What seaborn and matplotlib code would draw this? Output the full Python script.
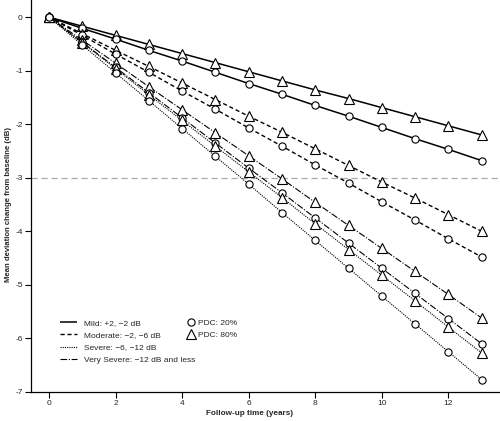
import matplotlib
matplotlib.use("Agg")
import matplotlib.pyplot as plt
from matplotlib.lines import Line2D
import seaborn as sns
import numpy as np

sns.set_theme(style="ticks")
plt.rcParams['font.family'] = ['Liberation Sans', 'DejaVu Sans']
plt.rcParams['axes.unicode_minus'] = False

years = list(range(14))

mild_80 = [0, -0.17, -0.34, -0.51, -0.68, -0.85, -1.02, -1.19, -1.36, -1.52, -1.69, -1.86, -2.03, -2.20]
mild_20 = [0, -0.21, -0.41, -0.62, -0.82, -1.03, -1.24, -1.44, -1.65, -1.85, -2.06, -2.27, -2.47, -2.68]
moderate_80 = [0, -0.31, -0.62, -0.92, -1.23, -1.54, -1.85, -2.15, -2.46, -2.77, -3.08, -3.38, -3.69, -4.00]
moderate_20 = [0, -0.34, -0.69, -1.03, -1.38, -1.72, -2.07, -2.41, -2.76, -3.10, -3.45, -3.79, -4.14, -4.48]
vsevere_80 = [0, -0.43, -0.86, -1.30, -1.73, -2.16, -2.59, -3.02, -3.46, -3.89, -4.32, -4.75, -5.18, -5.62]
vsevere_20 = [0, -0.47, -0.94, -1.41, -1.88, -2.35, -2.82, -3.28, -3.75, -4.22, -4.69, -5.16, -5.63, -6.10]
severe_80 = [0, -0.48, -0.96, -1.45, -1.93, -2.41, -2.89, -3.37, -3.86, -4.34, -4.82, -5.30, -5.79, -6.27]
severe_20 = [0, -0.52, -1.04, -1.56, -2.08, -2.60, -3.12, -3.65, -4.17, -4.69, -5.21, -5.73, -6.25, -6.77]

stage_labels = ["Mild: +2, \u22122 dB", "Moderate: \u22122, \u22126 dB",
                "Severe: \u22126, \u221212 dB", "Very Severe: \u221212 dB and less"]
pdc_labels = ["PDC: 20%", "PDC: 80%"]
xticks = [0, 2, 4, 6, 8, 10, 12]
yticks = [0, -1, -2, -3, -4, -5, -6, -7]

styles = {
    "mild": ((0, ()), 1.1),
    "moderate": ((0, (3, 2)), 1.0),
    "severe": ((0, (1, 1)), 0.8),
    "vsevere": ((0, (6, 1.5, 1, 1.5)), 0.8),
}

series = [
    (mild_80, "mild", "^"), (mild_20, "mild", "o"),
    (moderate_80, "moderate", "^"), (moderate_20, "moderate", "o"),
    (vsevere_80, "vsevere", "^"), (vsevere_20, "vsevere", "o"),
    (severe_80, "severe", "^"), (severe_20, "severe", "o"),
]

fig = plt.figure(figsize=(5.0, 4.21), dpi=100)
ax = fig.add_axes([0.062, 0.069, 0.938, 0.931])

ax.axhline(-3, color="#aaaaaa", linestyle=(0, (5, 3)), linewidth=0.9, zorder=1)

for vals, st, mk in series:
    ls, lw = styles[st]
    ms = 6.8 if mk == "^" else 5.2
    sns.lineplot(x=years, y=vals, ax=ax, color="black", linestyle=ls, linewidth=lw,
                 marker=mk, markersize=ms, markerfacecolor="white",
                 markeredgecolor="black", markeredgewidth=0.8, zorder=3)

ax.set_xlim(-0.54, 13.55)
ax.set_ylim(-7, 0.32)
ax.set_xticks(xticks)
ax.set_yticks(yticks)
ax.set_xticklabels([str(t) for t in xticks])
ax.set_yticklabels([str(t) for t in yticks])
ax.tick_params(axis="both", labelsize=6, length=4, width=0.8, color="black", pad=2)
for s in ["top", "right"]:
    ax.spines[s].set_visible(False)
for s in ["left", "bottom"]:
    ax.spines[s].set_color("black")
    ax.spines[s].set_linewidth(0.9)

ax.set_xlabel("Follow-up time (years)", fontsize=5.9, fontweight="bold")
ax.xaxis.set_label_coords(0.467, -0.047)
ax.set_ylabel("Mean deviation change from baseline (dB)", fontsize=5.6, fontweight="bold")
ax.yaxis.set_label_coords(-0.040, 0.477)

h1 = [Line2D([], [], color="black", linestyle=styles[k][0], linewidth=styles[k][1])
      for k in ["mild", "moderate", "severe", "vsevere"]]
leg1 = ax.legend(h1, stage_labels, loc="upper left", bbox_to_anchor=(0.055, 0.195),
                 frameon=False, fontsize=6, handlelength=2.0, handletextpad=0.9,
                 labelspacing=0.55, borderaxespad=0)
ax.add_artist(leg1)
h2 = [Line2D([], [], color="black", linestyle="none", marker="o", markersize=5.2,
             markerfacecolor="white", markeredgewidth=0.8),
      Line2D([], [], color="black", linestyle="none", marker="^", markersize=6.8,
             markerfacecolor="white", markeredgewidth=0.8)]
ax.legend(h2, pdc_labels, loc="upper left", bbox_to_anchor=(0.325, 0.195),
          frameon=False, fontsize=6, handlelength=1.0, handletextpad=0.3,
          labelspacing=0.55, borderaxespad=0)

fig.savefig("out.png", dpi=100)
